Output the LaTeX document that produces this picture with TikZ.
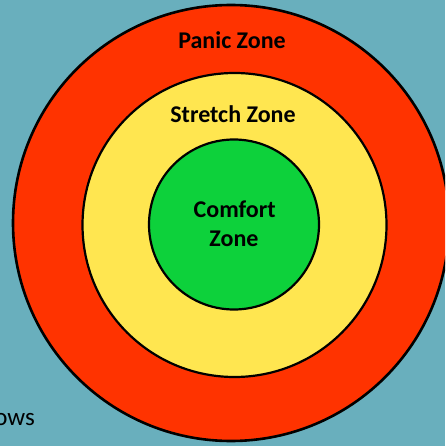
\documentclass[tikz,border=0pt]{standalone}
\usepackage{fontspec}
\setmainfont{Carlito}
\definecolor{bgteal}{HTML}{69AFBD}
\definecolor{zonered}{HTML}{FF3300}
\definecolor{zoneyellow}{HTML}{FFE650}
\definecolor{zonegreen}{HTML}{0DD13B}
\begin{document}
\begin{tikzpicture}[x=1pt,y=-1pt,
  zone/.style={circle,draw=black,inner sep=0pt,line width=2.2pt},
  zlabel/.style={font=\fontsize{24}{28}\selectfont\bfseries,anchor=base,inner sep=0pt},
  sidetext/.style={font=\fontsize{25}{28}\selectfont,anchor=base east,inner sep=0pt}]
\useasboundingbox (0,0) rectangle (445,446);
\clip (0,0) rectangle (445,446);
\fill[bgteal] (0,0) rectangle (445,446);
\node[zone,fill=zonered,minimum size=436pt,line width=2.6pt] (panic) at (231,223) {};
\node[zone,fill=zoneyellow,minimum size=304pt] (stretch) at (234.5,225) {};
\node[zone,fill=zonegreen,minimum size=170pt] (comfort) at (234,224.5) {};
\node[zlabel] (panicl) at (232,49) {Panic Zone};
\node[zlabel] (stretchl) at (233,123) {Stretch Zone};
\node[zlabel] (comfortl) at (234.7,217) {Comfort};
\node[zlabel] (comfortl2) at (234,246) {Zone};
\node[sidetext] (ows) at (35,425) {ows};
\end{tikzpicture}
\end{document}
